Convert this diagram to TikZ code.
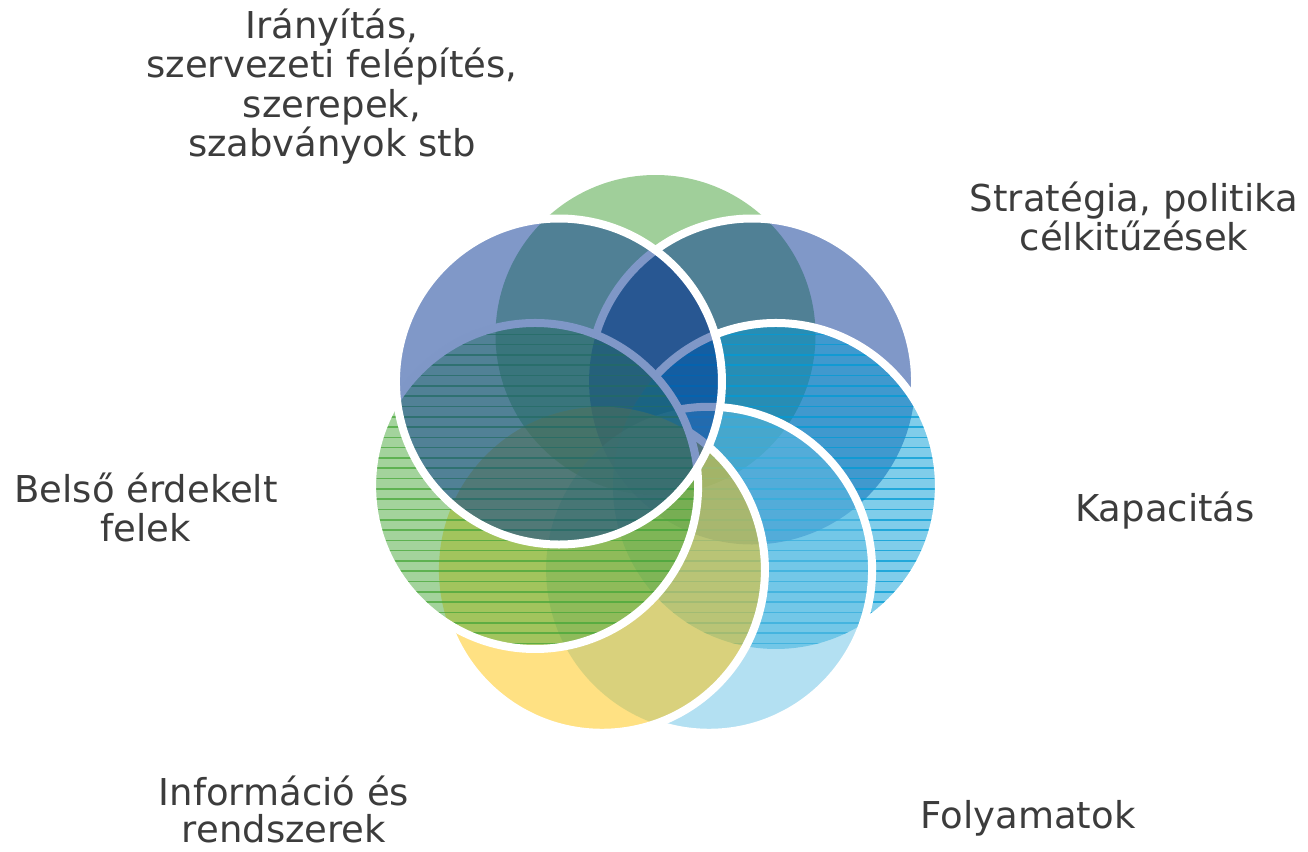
\documentclass[tikz,border=0pt]{standalone}
\usepackage{fontspec}
\setmainfont{DejaVu Sans}
\definecolor{cG}{RGB}{65,160,53}
\definecolor{cP}{RGB}{1,49,145}
\definecolor{cE}{RGB}{1,155,213}
\definecolor{cF}{RGB}{103,193,229}
\definecolor{cY}{RGB}{255,195,7}
\definecolor{cH}{RGB}{71,167,57}
\definecolor{txt}{RGB}{60,60,60}
\newcommand\outsideof[1]{\clip (-20,-20) -- (-20,900) -- (1400,900) -- (1400,-20) -- cycle (#1) circle[radius=163];}
\newcommand\hatchin[2]{\begin{scope}\clip (#1) circle[radius=163];
  \foreach \i in {0,...,33} {\draw[#2, line width=1.6pt, opacity=0.75] (300,{324+10.3*\i}) -- (1000,{324+10.3*\i});}
  \end{scope}}
\begin{document}
\begin{tikzpicture}[x=1pt,y=-1pt,
  disc/.style={fill=#1, fill opacity=0.5},
  rim/.style={draw=white, line width=8pt},
  lbl/.style={anchor=base, inner sep=0pt, text=txt, font=\fontsize{37}{40}\selectfont}]
\useasboundingbox (0,0) rectangle (1308,851);
\coordinate (cg) at (655.5,335.0);
\coordinate (cb) at (752.06,381.5);
\coordinate (ce) at (775.9,485.98);
\coordinate (cf) at (709.08,569.77);
\coordinate (cyl) at (601.92,569.77);
\coordinate (ch) at (535.1,485.98);
\coordinate (ca) at (558.94,381.5);
% green top (lowest, no rim)
\fill[disc=cG] (cg) circle[radius=160];
% periwinkle right
\fill[disc=cP] (cb) circle[radius=163];
\begin{scope}[even odd rule]\outsideof{ce}\outsideof{cf}\outsideof{cyl}\outsideof{ch}
  \draw[rim] (cb) circle[radius=163];\end{scope}
% blue right
\fill[disc=cE] (ce) circle[radius=163];
\hatchin{ce}{cE}
\begin{scope}[even odd rule]\outsideof{cf}\outsideof{cyl}\outsideof{ch}
  \draw[rim] (ce) circle[radius=163];\end{scope}
% light blue
\fill[disc=cF] (cf) circle[radius=163];
\begin{scope}[even odd rule]\outsideof{cyl}\outsideof{ch}
  \draw[rim] (cf) circle[radius=163];\end{scope}
% yellow
\fill[disc=cY] (cyl) circle[radius=163];
\begin{scope}[even odd rule]\outsideof{ch}
  \draw[rim] (cyl) circle[radius=163];\end{scope}
% green left
\fill[disc=cH] (ch) circle[radius=163];
\hatchin{ch}{cH}
\draw[rim] (ch) circle[radius=163];
% periwinkle left (top)
\fill[disc=cP] (ca) circle[radius=163];
\draw[rim] (ca) circle[radius=163];
% labels
\node[lbl] (t1a) at (332,38) {Irányítás,};
\node[lbl] (t1b) at (332,77.6) {szervezeti felépítés,};
\node[lbl] (t1c) at (332,117.2) {szerepek,};
\node[lbl] (t1d) at (332,156.8) {szabványok stb};
\node[lbl] (t2a) at (1134,211) {Stratégia, politika};
\node[lbl] (t2b) at (1134,250.5) {célkitűzések};
\node[lbl] (t3) at (1165,521) {Kapacitás};
\node[lbl] (t4) at (1028,828) {Folyamatok};
\node[lbl] (t5a) at (284,805) {Információ és};
\node[lbl] (t5b) at (284,842) {rendszerek};
\node[lbl] (t6a) at (146,502) {Belső érdekelt};
\node[lbl] (t6b) at (146,541) {felek};
\end{tikzpicture}
\end{document}
